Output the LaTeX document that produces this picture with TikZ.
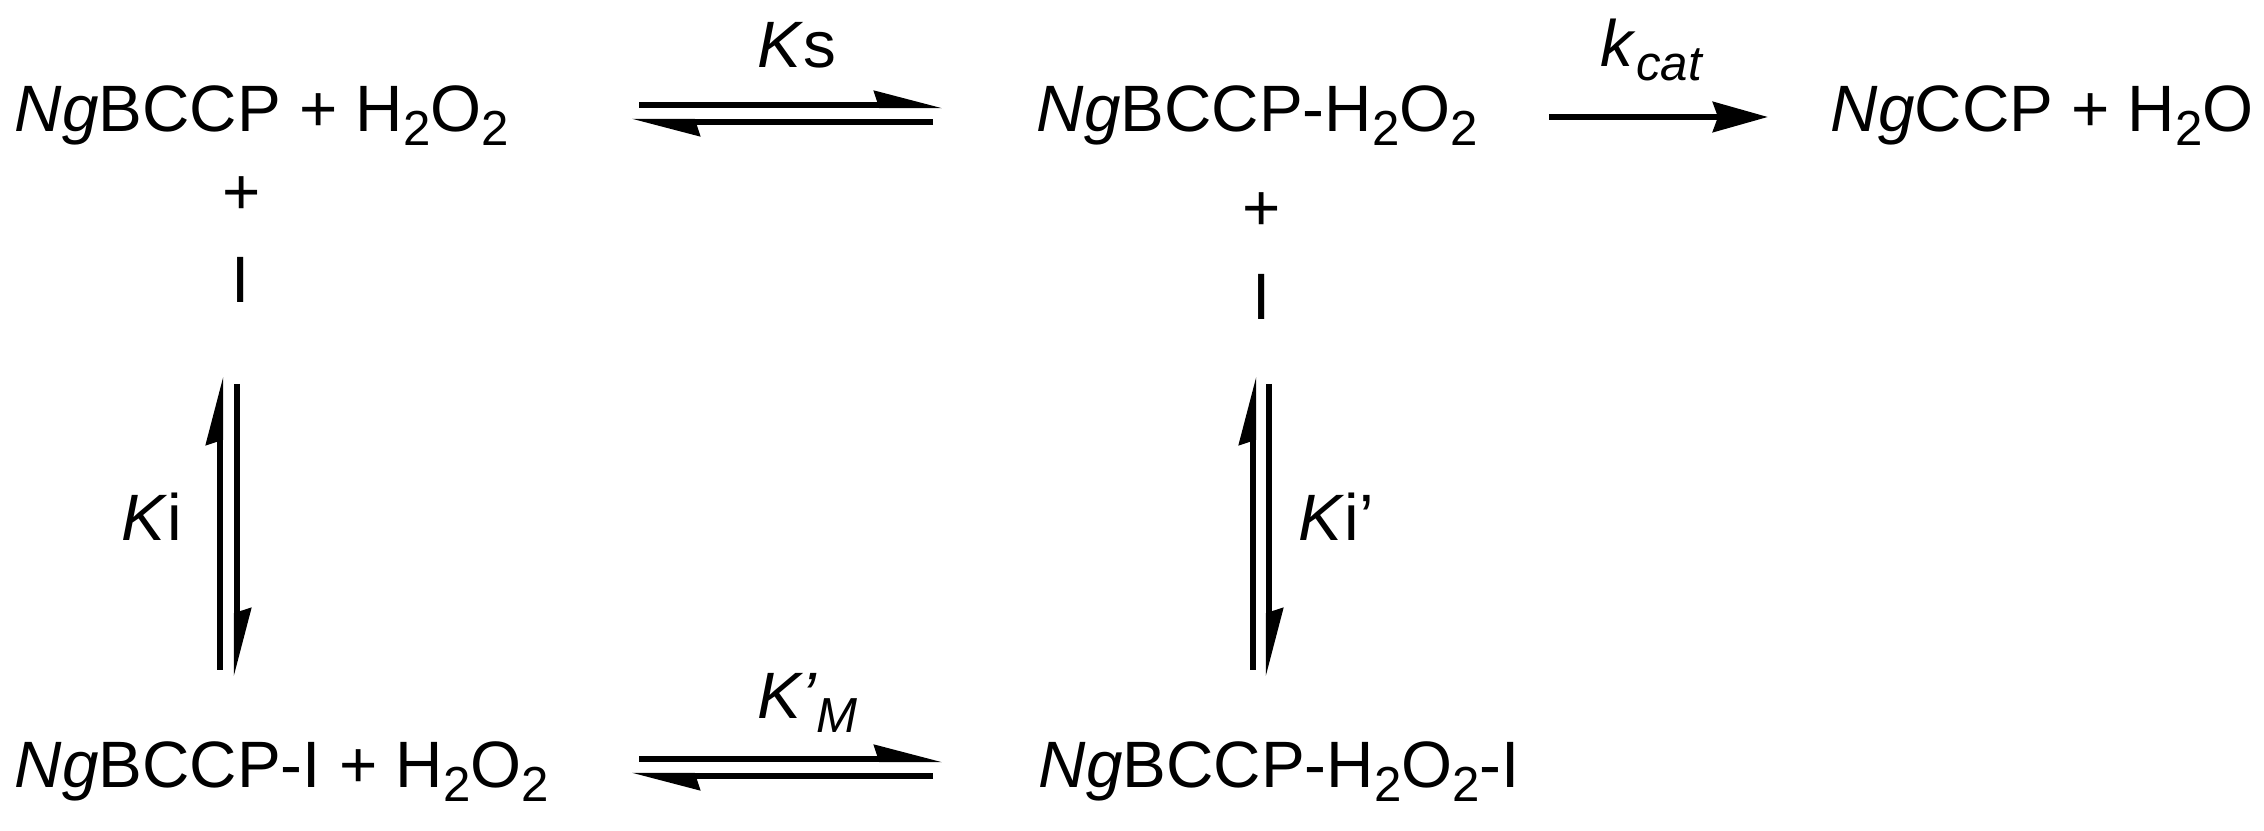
\documentclass[tikz,border=0pt]{standalone}
\usepackage{fontspec}
\setmainfont{Liberation Sans}
\usetikzlibrary{arrows.meta}
\providecommand{\Ng}{\textit{Ng}}
\providecommand{\lowsub}[1]{\raisebox{-0.2em}{\fontsize{12.3}{12}\selectfont #1}}

\begin{document}
\begin{tikzpicture}[x=0.25pt,y=-0.25pt,
  species/.style={inner sep=0pt,anchor=base west,font=\fontsize{16.4}{19.7}\selectfont},
  plus/.style={inner sep=0pt,anchor=base,font=\fontsize{16.4}{19.7}\selectfont},
  harp/.style={line width=1.6pt,-{Stealth[harpoon,length=14pt,width=7pt,inset=1pt]}},
  fwd/.style={line width=1.6pt,-{Stealth[length=13.75pt,width=7.5pt,inset=1.25pt]}}]
\useasboundingbox[fill=white] (0,0) rectangle (2264,831);
% Drawing species
\node[species] (free) at (14,132) {\Ng BCCP + H\lowsub{2}O\lowsub{2}};
\node[species] (cplx) at (1036,132) {\Ng BCCP-H\lowsub{2}O\lowsub{2}};
\node[species] (prod) at (1830,132) {\Ng CCP + H\lowsub{2}O};
\node[species] (inhb) at (14,788) {\Ng BCCP-I + H\lowsub{2}O\lowsub{2}};
\node[species] (tern) at (1038,788) {\Ng BCCP-H\lowsub{2}O\lowsub{2}-I};
% Line 1: + I under the free enzyme and the complex
\node[plus] (plusL) at (242,215) {+};
\node[plus] (iL) at (241,303) {I};
\node[plus] (plusR) at (1262,231) {+};
\node[plus] (iR) at (1262,320) {I};
% Done with species; drawing constants
\node[species] (ks) at (757,68) {\textit{K}s};
\node[species] (kcat) at (1600,67) {\textit{k}\lowsub{\textit{cat}}};
\node[species] (ki) at (121,541) {\textit{K}i};
\node[species] (kip) at (1298,541) {\textit{K}i’};
\node[species] (kmp) at (757,719) {\textit{K’}\lowsub{\textit{M}}};
% Done with constants; drawing arrows
\coordinate (ksA) at (639,105);  \coordinate (ksB) at (943,105);
\coordinate (ksC) at (933,122);  \coordinate (ksD) at (631,122);
\coordinate (catA) at (1549,117); \coordinate (catB) at (1768,117);
\coordinate (kiA) at (220,670);  \coordinate (kiB) at (220,376);
\coordinate (kiC) at (237,384);  \coordinate (kiD) at (237,677);
\coordinate (kipA) at (1253,670); \coordinate (kipB) at (1253,376);
\coordinate (kipC) at (1269,384); \coordinate (kipD) at (1269,677);
\coordinate (kmA) at (639,759);  \coordinate (kmB) at (943,759);
\coordinate (kmC) at (933,776);  \coordinate (kmD) at (631,776);
\draw[harp] (ksA) -- (ksB);
\draw[harp] (ksC) -- (ksD);
\draw[fwd] (catA) -- (catB);
\draw[harp] (kiA) -- (kiB);
\draw[harp] (kiC) -- (kiD);
\draw[harp] (kipA) -- (kipB);
\draw[harp] (kipC) -- (kipD);
\draw[harp] (kmA) -- (kmB);
\draw[harp] (kmC) -- (kmD);
% Done with arrows
\end{tikzpicture}
\end{document}
